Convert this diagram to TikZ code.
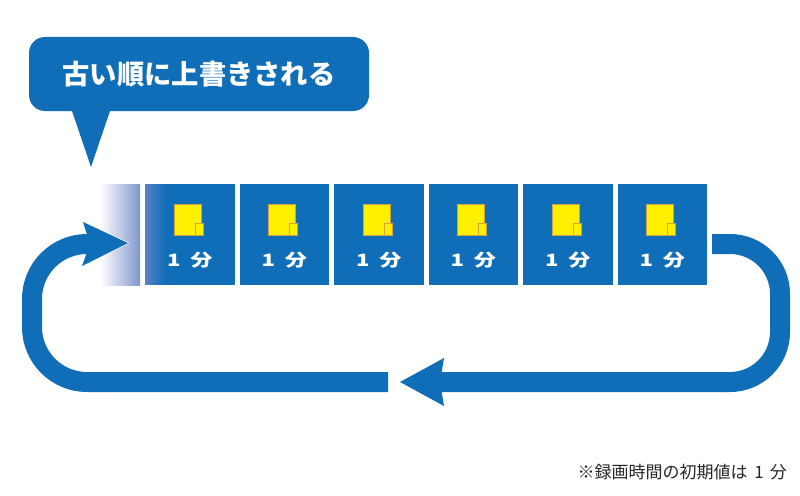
\documentclass[tikz,border=0pt]{standalone}
\usepackage{fontspec}
\newfontfamily\jp{Noto Sans CJK JP}
\definecolor{mblue}{RGB}{16,110,184}
\definecolor{gradc}{RGB}{128,150,205}
\definecolor{edgec}{RGB}{92,128,196}
\definecolor{yel}{RGB}{255,240,0}
\definecolor{yelb}{RGB}{215,160,70}
\tikzset{
  band/.style={draw=mblue, line width=20pt},
  minbox/.style={fill=mblue},
  memo/.style={fill=yel, draw=yelb, line width=0.8pt},
  minlabel/.style={font=\jp\bfseries\fontsize{17}{17}\selectfont, text=white, inner sep=0pt, xscale=1.3, transform shape},
}
\begin{document}
\begin{tikzpicture}[x=1pt,y=-1pt]
\useasboundingbox (0,0) rectangle (800,495);
\fill[white] (0,0) rectangle (800,495);
% callout
\fill[mblue, rounded corners=16pt] (29,37) rectangle (369,111);
\fill[mblue] (70,105) -- (112,105) -- (91,167) -- cycle;
\node[font=\jp\bfseries\fontsize{27.3}{27.3}\selectfont, text=white, inner sep=0pt] (title) at (199,74) {古い順に上書きされる};
% fading slot
\shade[left color=white, right color=gradc] (100,184) rectangle (140,285);
\coordinate (fade) at (120,234);
% minute boxes
\foreach \i in {0,...,5}{
  \pgfmathsetmacro{\xl}{145+94.5*\i}
  \pgfmathsetmacro{\cx}{\xl+44.75}
  \fill[minbox] (\xl,184) rectangle ++(89.5,101);
  \coordinate (box\i) at (\cx,234);
}
% soft left edge of the newest box
\foreach \k in {0,...,19}{
  \pgfmathtruncatemacro{\pc}{100-5*\k}
  \fill[edgec!\pc!mblue] (145+\k,184) rectangle (146.2+\k,285);
}
\foreach \i in {0,...,5}{
  \pgfmathsetmacro{\cx}{189.75+94.5*\i}
  \filldraw[memo] (\cx-15.5,204) rectangle (\cx+11.5,235);
  \filldraw[memo] (\cx+5.5,223) rectangle (\cx+13.5,235);
  \node[minlabel] (lab\i) at (\cx,260) {1\hspace{0.45em}分};
}
% right U-turn
\coordinate (r0) at (712,244);
\coordinate (r1) at (780,244);
\coordinate (r2) at (780,382);
\coordinate (r3) at (440,382);
\draw[band, rounded corners=50pt] (r0) -- (r1) -- (r2) -- (r3);
\fill[mblue] (400,382) -- (444,358) -- (440,382) -- (444,406) -- cycle;
% left return
\coordinate (l0) at (388,382);
\coordinate (l1) at (32,382);
\coordinate (l2) at (32,244);
\coordinate (l3) at (92,244);
\coordinate (tip) at (128,243);
\filldraw[fill=mblue, draw=white, line width=1.5pt, line join=round] (tip) -- (83,222) -- (90,244) -- (82,266) -- cycle;
\draw[band, rounded corners=55pt] (l0) -- (l1) -- (l2) -- (l3);
\fill[mblue] (tip) -- (83,222) -- (90,244) -- (82,266) -- cycle;
% note
\node[font=\jp\fontsize{17}{17}\selectfont, anchor=east, inner sep=0pt, text=black!85] (note) at (787,472) {※録画時間の初期値は\hspace{0.4em}1\hspace{0.35em}分};
\end{tikzpicture}
\end{document}
